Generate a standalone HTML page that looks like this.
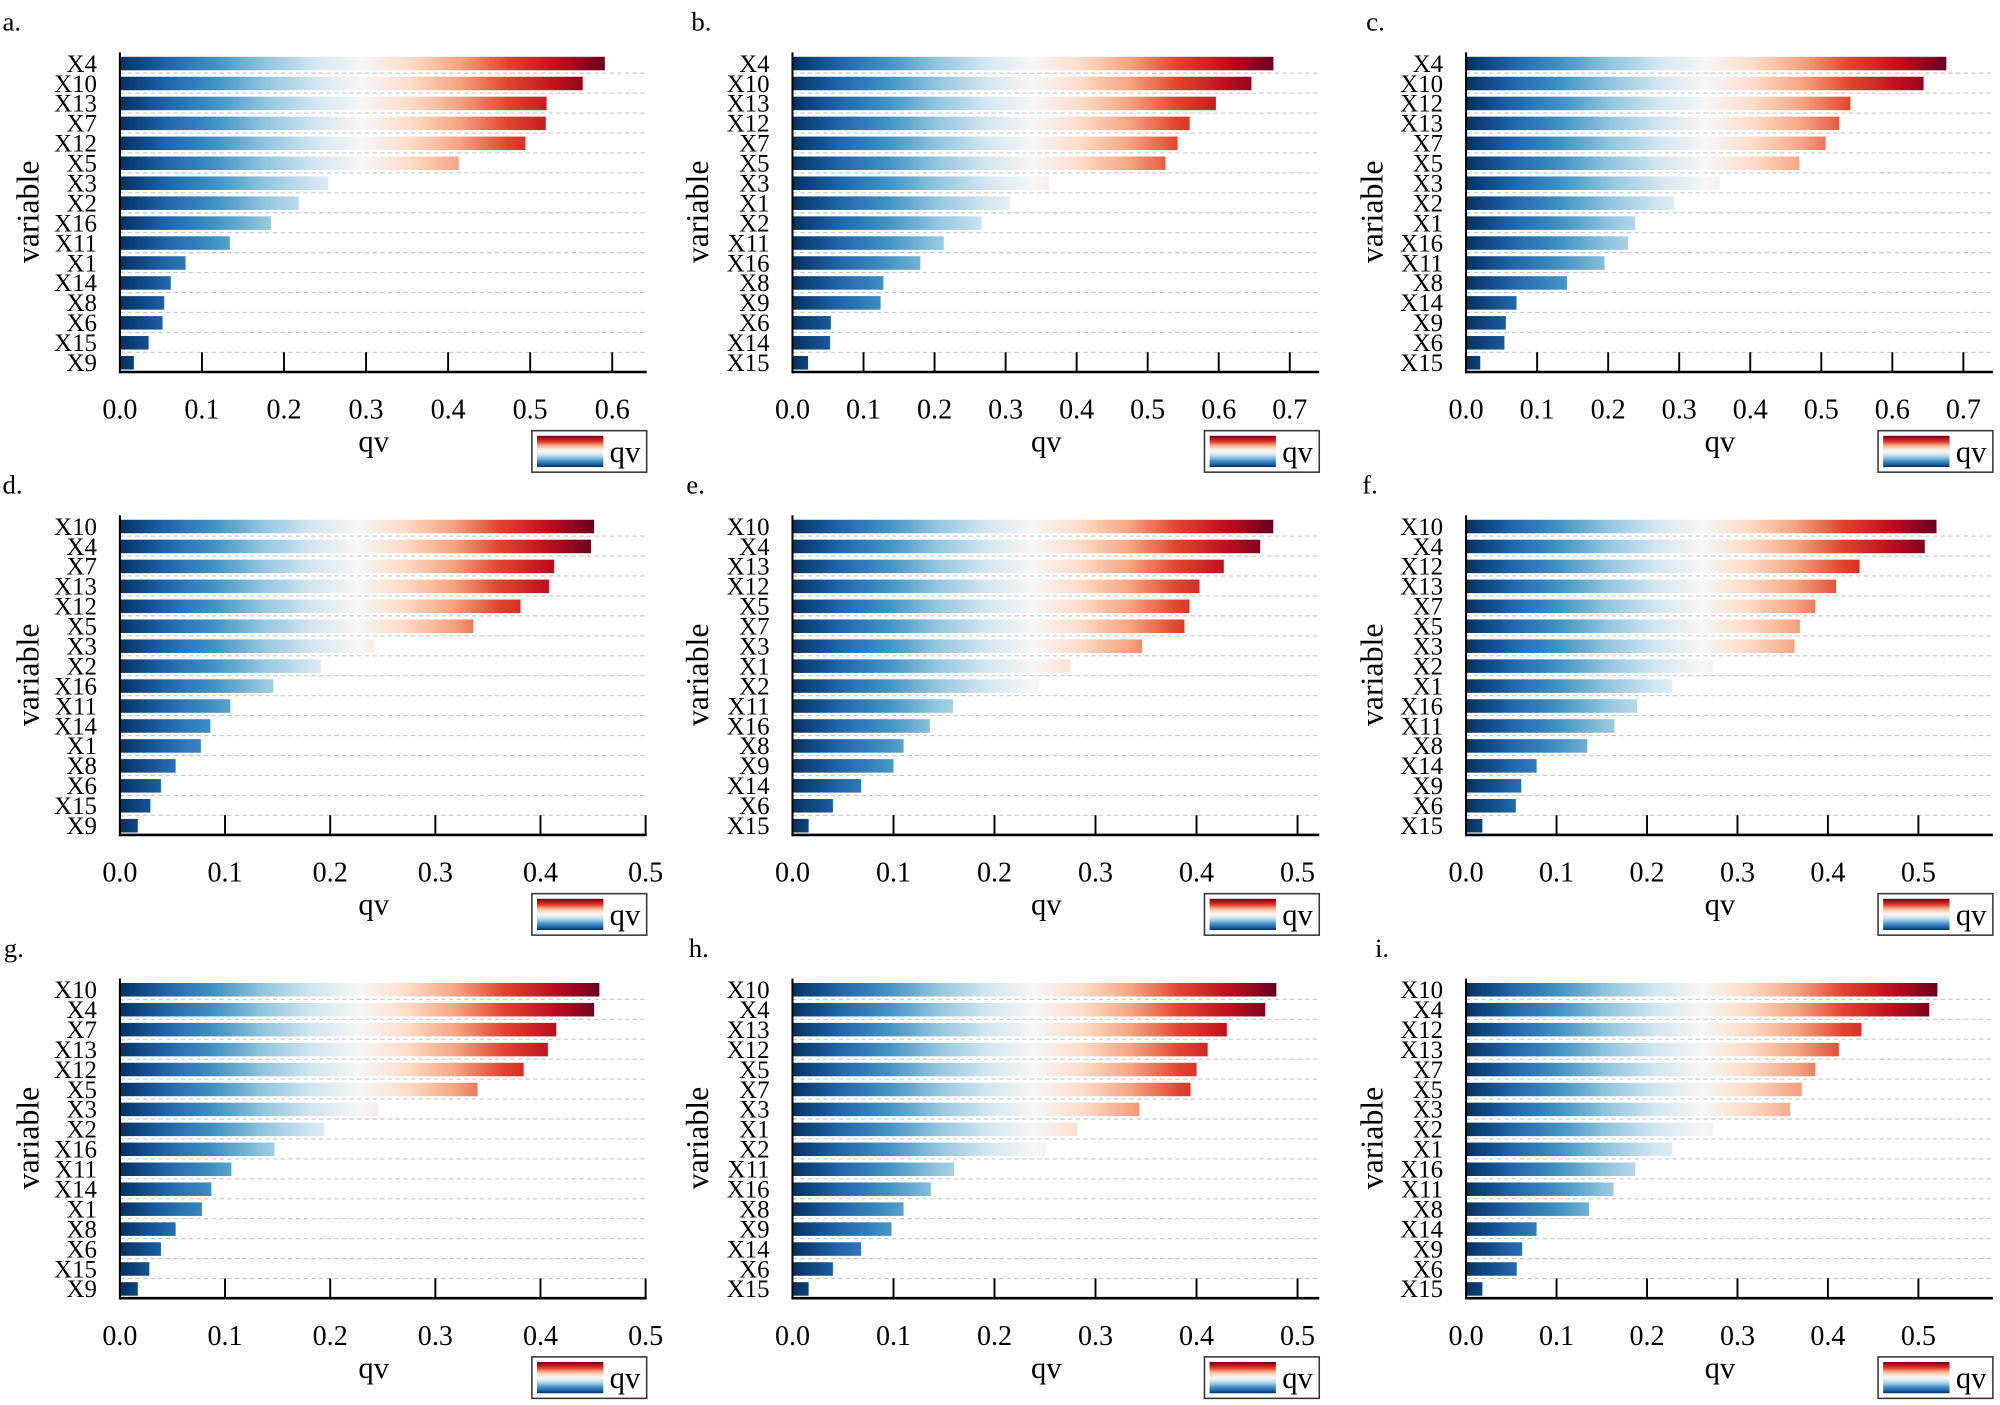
<!DOCTYPE html>
<html>
<head>
<meta charset="utf-8">
<style>
html,body{margin:0;padding:0;background:#fff;}
svg{display:block;}
text{font-family:"Liberation Serif","DejaVu Serif",serif;fill:#000;}
</style>
</head>
<body>
<svg id="fig" xmlns="http://www.w3.org/2000/svg" width="2000" height="1405" viewBox="0 0 1568 1101" preserveAspectRatio="none">
<defs>
<linearGradient id="legGrad" x1="0" y1="1" x2="0" y2="0">
<stop offset="0" stop-color="#053061"/><stop offset="0.1" stop-color="#2166ac"/><stop offset="0.2" stop-color="#4393c3"/><stop offset="0.3" stop-color="#92c5de"/><stop offset="0.4" stop-color="#d1e5f0"/><stop offset="0.5" stop-color="#f7f7f7"/><stop offset="0.6" stop-color="#fddbc7"/><stop offset="0.7" stop-color="#f4a582"/><stop offset="0.8" stop-color="#e0452f"/><stop offset="0.9" stop-color="#c0101f"/><stop offset="1" stop-color="#67001f"/>
</linearGradient>
</defs>
</svg>
<script>
// ---- data ----
const catsA = ["X4","X10","X13","X7","X12","X5","X3","X2","X16","X11","X1","X14","X8","X6","X15","X9"];
const valsA = [0.591,0.564,0.520,0.519,0.494,0.413,0.254,0.218,0.184,0.134,0.080,0.062,0.054,0.052,0.035,0.017];
const catsB = ["X4","X10","X13","X12","X7","X5","X3","X1","X2","X11","X16","X8","X9","X6","X14","X15"];
const valsB = [0.677,0.646,0.596,0.559,0.542,0.525,0.361,0.306,0.266,0.213,0.180,0.128,0.124,0.054,0.053,0.022];
const catsC = ["X4","X10","X12","X13","X7","X5","X3","X2","X1","X16","X11","X8","X14","X9","X6","X15"];
const valsC = [0.676,0.644,0.541,0.525,0.506,0.469,0.357,0.293,0.238,0.228,0.195,0.142,0.071,0.056,0.054,0.020];
const catsD = ["X10","X4","X7","X13","X12","X5","X3","X2","X16","X11","X14","X1","X8","X6","X15","X9"];
const valsD = [0.451,0.448,0.413,0.408,0.381,0.336,0.242,0.191,0.146,0.105,0.086,0.077,0.053,0.039,0.029,0.017];
const catsE = ["X10","X4","X13","X12","X5","X7","X3","X1","X2","X11","X16","X8","X9","X14","X6","X15"];
const valsE = [0.476,0.463,0.427,0.403,0.393,0.388,0.346,0.275,0.244,0.159,0.136,0.110,0.100,0.068,0.040,0.016];
const catsF = ["X10","X4","X12","X13","X7","X5","X3","X2","X1","X16","X11","X8","X14","X9","X6","X15"];
const valsF = [0.520,0.507,0.435,0.409,0.386,0.369,0.363,0.273,0.228,0.189,0.164,0.134,0.078,0.061,0.055,0.018];
const catsG = ["X10","X4","X7","X13","X12","X5","X3","X2","X16","X11","X14","X1","X8","X6","X15","X9"];
const valsG = [0.456,0.451,0.415,0.407,0.384,0.340,0.246,0.194,0.147,0.106,0.087,0.078,0.053,0.039,0.028,0.017];
const catsH = ["X10","X4","X13","X12","X5","X7","X3","X1","X2","X11","X16","X8","X9","X14","X6","X15"];
const valsH = [0.479,0.468,0.430,0.411,0.400,0.394,0.343,0.282,0.251,0.160,0.137,0.110,0.098,0.068,0.040,0.016];
const catsI = ["X10","X4","X12","X13","X7","X5","X3","X2","X1","X16","X11","X8","X14","X9","X6","X15"];
const valsI = [0.521,0.512,0.437,0.412,0.386,0.371,0.358,0.273,0.228,0.187,0.163,0.136,0.078,0.062,0.056,0.018];
const ticks07 = [0,0.1,0.2,0.3,0.4,0.5,0.6,0.7];
const ticks06 = [0,0.1,0.2,0.3,0.4,0.5,0.6];
const ticks05 = [0,0.1,0.2,0.3,0.4,0.5];
const panelLetters = ["a.","b.","c.","d.","e.","f.","g.","h.","i."];

const NS = "http://www.w3.org/2000/svg";
const svg = document.getElementById('fig');
const defs = svg.querySelector('defs');
const STOPS = ["#053061","#2166ac","#4393c3","#92c5de","#d1e5f0","#f7f7f7","#fddbc7","#f4a582","#e0452f","#c0101f","#67001f"];

function mk(tag, attrs, parent){
  const e = document.createElementNS(NS, tag);
  for (const k in attrs) e.setAttribute(k, attrs[k]);
  (parent||svg).appendChild(e);
  return e;
}

const panels = [
  {cats:catsA, vals:valsA, ticks:ticks06, x0:94,     dy:0,     dmax:0.642, lx:2,    vx:22},
  {cats:catsB, vals:valsB, ticks:ticks07, x0:621.3,  dy:0,     dmax:0.7415, lx:542, vx:547},
  {cats:catsC, vals:valsC, ticks:ticks07, x0:1149.4, dy:0,     dmax:0.7415, lx:1071, vx:1076},
  {cats:catsD, vals:valsD, ticks:ticks05, x0:94,     dy:362.8, dmax:0.501, lx:2,    vx:22},
  {cats:catsE, vals:valsE, ticks:ticks05, x0:621.3,  dy:362.8, dmax:0.5215, lx:538, vx:547},
  {cats:catsF, vals:valsF, ticks:ticks05, x0:1149.4, dy:362.8, dmax:0.5823, lx:1068, vx:1076},
  {cats:catsG, vals:valsG, ticks:ticks05, x0:94,     dy:725.8, dmax:0.501, lx:3,    vx:22},
  {cats:catsH, vals:valsH, ticks:ticks05, x0:621.3,  dy:725.8, dmax:0.5215, lx:540, vx:547},
  {cats:catsI, vals:valsI, ticks:ticks05, x0:1149.4, dy:725.8, dmax:0.5823, lx:1078, vx:1076}
];

const L = 413, TOP = 41, BOT = 291.5, BAR0 = 44.5, PITCH = 15.63, BH = 10.6;

panels.forEach((p, pi) => {
  const g = mk('g', {});
  
  
  const xs = v => p.x0 + v / p.dmax * L;
  const dy = p.dy;

  const maxV = Math.max(...p.vals);
  const gid = 'grad' + pi;
  const lg = mk('linearGradient', {id:gid, gradientUnits:'userSpaceOnUse', x1:p.x0, y1:0, x2:xs(maxV), y2:0}, defs);
  STOPS.forEach((c, i) => mk('stop', {offset:(i/(STOPS.length-1)).toFixed(3), 'stop-color':c}, lg));

  const lt = mk('text', {x:p.lx, y:dy+24, 'font-size':21}, g);
  lt.textContent = panelLetters[pi];
  
  

  for (let i = 0; i < p.cats.length - 1; i++) {
    const y = dy + BAR0 + i*PITCH + BH + 2.2;
    const gl = mk('line', {x1:p.x0, x2:p.x0+L, y1:y, y2:y, stroke:'#c8c8c8', 'stroke-width':0.9, 'stroke-dasharray':'3.5,2.5'}, g);
    
    
  }

  p.cats.forEach((c, i) => {
    const y = dy + BAR0 + i*PITCH;
    const b = mk('rect', {x:p.x0, y:y, width:Math.max(0, xs(p.vals[i]) - p.x0), height:BH, fill:'url(#'+gid+')'}, g);
    
    
    const t = mk('text', {x:p.x0-18, y:y+BH/2+6.5, 'font-size':19.5, 'text-anchor':'end'}, g);
    t.textContent = c;
    
    
  });

  const ya = mk('line', {x1:p.x0, x2:p.x0, y1:dy+TOP, y2:dy+BOT+1, stroke:'#000', 'stroke-width':1.6}, g);
  
  
  const xa = mk('line', {x1:p.x0-0.8, x2:p.x0+L, y1:dy+BOT, y2:dy+BOT, stroke:'#000', 'stroke-width':2}, g);
  
  

  p.ticks.forEach(t => {
    const x = xs(t);
    if (t > 0) {
      const tk = mk('line', {x1:x, x2:x, y1:dy+BOT-15.5, y2:dy+BOT, stroke:'#000', 'stroke-width':1.5}, g);
      
      
    }
    const tl = mk('text', {x:x, y:dy+328, 'font-size':22, 'text-anchor':'middle'}, g);
    tl.textContent = t.toFixed(1);
    
    
  });

  const xt = mk('text', {x:p.x0+199, y:dy+354, 'font-size':24, 'text-anchor':'middle'}, g);
  xt.textContent = 'qv';
  
  
  const yt = mk('text', {x:0, y:0, 'font-size':25, 'text-anchor':'middle', transform:'translate('+(p.vx+8)+','+(dy+166)+') rotate(-90)'}, g);
  yt.textContent = 'variable';
  
  

  const lx = p.x0 + 323;
  const lgG = mk('g', {}, g);
  
  
  mk('rect', {x:lx, y:dy+337.5, width:90, height:32.5, fill:'#fff', stroke:'#333', 'stroke-width':1.2}, lgG);
  const sw = mk('rect', {x:lx+4, y:dy+341.5, width:52, height:24.5, fill:'url(#legGrad)'}, lgG);
  
  
  const lqt = mk('text', {x:lx+61, y:dy+362, 'font-size':24}, lgG);
  lqt.textContent = 'qv';
  
  
});
</script>
</body>
</html>
